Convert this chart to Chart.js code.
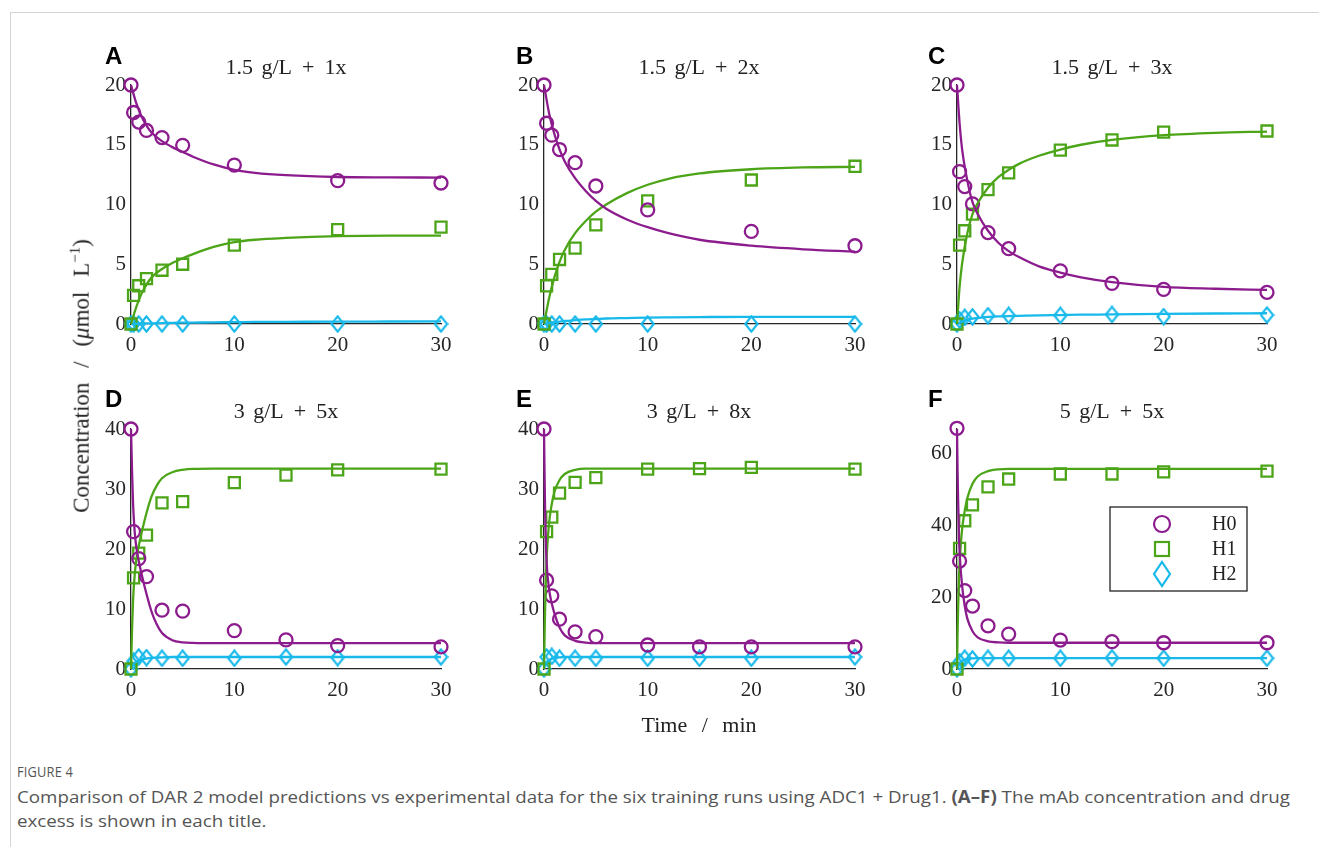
<!DOCTYPE html>
<html>
<head>
<meta charset="utf-8">
<script src="https://cdn.jsdelivr.net/npm/chart.js@4.4.1/dist/chart.umd.min.js"></script>
<style>
  html, body { margin:0; padding:0; background:#fff; }
  body { width:1319px; height:847px; position:relative; overflow:hidden; }
  .frameTop { position:absolute; left:10px; top:12px; width:1309px; height:1px; background:#d4d4d4; }
  .frameLeft { position:absolute; left:10px; top:12px; width:1px; height:835px; background:#d4d4d4; }
  canvas.pc { position:absolute; }
  .ttl { position:absolute; font-family:"Liberation Serif", serif; font-size:22px; line-height:22px; color:#222; white-space:nowrap; transform:translateX(-50%); word-spacing:3px; }
  .ttl .op { margin:0 10px; }
  .lt { position:absolute; font-family:"Liberation Sans", Arial, sans-serif; font-weight:bold; font-size:24px; line-height:24px; color:#000; }
  .ylab { position:absolute; font-family:"Liberation Serif", serif; font-size:23px; line-height:23px; color:#222; white-space:nowrap; transform:translate(-50%,-50%) rotate(-90deg); word-spacing:9px; }
  .xlab { position:absolute; font-family:"Liberation Serif", serif; font-size:22px; line-height:22px; color:#222; white-space:nowrap; transform:translate(-50%,-50%); word-spacing:9px; }
  .cap { position:absolute; left:17px; font-family:"Open Sans", sans-serif; color:#555; white-space:nowrap; transform-origin:0 0; }
</style>
</head>
<body>
<div class="frameTop"></div>
<div class="frameLeft"></div>

<canvas id="cA" class="pc"></canvas>
<canvas id="cB" class="pc"></canvas>
<canvas id="cC" class="pc"></canvas>
<canvas id="cD" class="pc"></canvas>
<canvas id="cE" class="pc"></canvas>
<canvas id="cF" class="pc"></canvas>

<div class="lt" style="left:105px;top:44px;">A</div>
<div class="lt" style="left:516px;top:44px;">B</div>
<div class="lt" style="left:928px;top:44px;">C</div>
<div class="lt" style="left:105px;top:387px;">D</div>
<div class="lt" style="left:516px;top:387px;">E</div>
<div class="lt" style="left:928px;top:387px;">F</div>

<div class="ttl" style="left:286px;top:56px;">1.5 g/L<span class="op">+</span>1x</div>
<div class="ttl" style="left:699px;top:56px;">1.5 g/L<span class="op">+</span>2x</div>
<div class="ttl" style="left:1112px;top:56px;">1.5 g/L<span class="op">+</span>3x</div>
<div class="ttl" style="left:286px;top:400px;">3 g/L<span class="op">+</span>5x</div>
<div class="ttl" style="left:699px;top:400px;">3 g/L<span class="op">+</span>8x</div>
<div class="ttl" style="left:1112px;top:400px;">5 g/L<span class="op">+</span>5x</div>

<div class="ylab" style="left:78px;top:376px;">Concentration / (<i>μ</i>mol L<sup style="font-size:15px;">−1</sup>)</div>
<div class="xlab" style="left:699px;top:725px;">Time / min</div>

<div class="cap" id="cap0" style="top:762px;font-size:14px;letter-spacing:0.2px;">FIGURE 4</div>
<div class="cap" id="cap1" style="top:785px;font-size:17px;">Comparison of DAR 2 model predictions vs experimental data for the six training runs using ADC1 + Drug1. <b>(A–F)</b> The mAb concentration and drug</div>
<div class="cap" id="cap2" style="top:809px;font-size:17px;">excess is shown in each title.</div>

<script>
// ---------------- DATA ----------------
const seriesNames = ['H0', 'H1', 'H2'];
const colH0 = '#8c1c8e';
const colH1 = '#4ca518';
const colH2 = '#17b9ea';

// experimental sampling times (min)
const timesAB = [0, 0.25, 0.75, 1.5, 3, 5, 10, 20, 30];
const timesCF = [0, 0.25, 0.75, 1.5, 3, 5, 10, 15, 20, 30];

// Panel A: 1.5 g/L + 1x
const expA_H0 = [20.0, 17.7, 16.9, 16.2, 15.6, 14.95, 13.3, 12.0, 11.8];
const expA_H1 = [0, 2.4, 3.2, 3.8, 4.5, 5.0, 6.6, 7.9, 8.1];
const expA_H2 = [0, 0, 0, 0, 0, 0, 0, 0, 0];
const modelTimesAB = [0, 0.5, 1, 1.5, 2, 3, 4, 5, 6, 8, 10, 12, 15, 20, 25, 30];
const modelA_H0 = [20, 18.5, 17.4, 16.6, 16.0, 15.3, 14.8, 14.4, 14.0, 13.35, 12.9, 12.65, 12.45, 12.3, 12.27, 12.25];
const modelA_H1 = [0, 1.4, 2.5, 3.3, 3.9, 4.6, 5.1, 5.5, 5.85, 6.45, 6.85, 7.05, 7.2, 7.35, 7.4, 7.4];
const modelA_H2 = [0, 0.02, 0.04, 0.05, 0.06, 0.08, 0.1, 0.11, 0.12, 0.14, 0.15, 0.17, 0.18, 0.2, 0.21, 0.22];

// Panel B: 1.5 g/L + 2x
const expB_H0 = [20.0, 16.8, 15.8, 14.6, 13.5, 11.55, 9.55, 7.75, 6.55];
const expB_H1 = [0, 3.2, 4.15, 5.4, 6.35, 8.3, 10.3, 12.05, 13.2];
const expB_H2 = [0, 0, 0, 0, 0, 0, 0, 0, 0];
const modelB_H0 = [20, 17.6, 15.9, 14.6, 13.6, 12.2, 11.15, 10.3, 9.65, 8.75, 8.1, 7.6, 7.05, 6.55, 6.25, 6.05];
const modelB_H1 = [0, 2.2, 3.9, 5.2, 6.2, 7.6, 8.6, 9.4, 10.0, 10.95, 11.65, 12.15, 12.6, 12.95, 13.1, 13.15];
const modelB_H2 = [0, 0.08, 0.15, 0.2, 0.25, 0.32, 0.38, 0.42, 0.46, 0.5, 0.54, 0.56, 0.58, 0.6, 0.6, 0.6];

// Panel C: 1.5 g/L + 3x
const expC_H0 = [20, 12.75, 11.5, 10.05, 7.65, 6.3, 4.45, 3.4, 2.9, 2.65];
const expC_H1 = [0, 6.6, 7.8, 9.2, 11.25, 12.65, 14.55, 15.4, 16.05, 16.15];
const expC_H2 = [0, 0.35, 0.55, 0.6, 0.7, 0.72, 0.72, 0.8, 0.62, 0.75];
const modelTimesC = [0, 0.25, 0.5, 1, 1.5, 2, 3, 4, 5, 6, 8, 10, 12, 15, 20, 25, 30];
const modelC_H0 = [20, 16.8, 14.6, 12.0, 10.2, 9.2, 7.8, 6.8, 6.1, 5.6, 4.8, 4.3, 3.9, 3.5, 3.1, 2.95, 2.85];
const modelC_H1 = [0, 3.1, 5.1, 7.6, 9.2, 10.1, 11.4, 12.3, 12.9, 13.4, 14.1, 14.6, 15.0, 15.4, 15.8, 16.0, 16.1];
const modelC_H2 = [0, 0.1, 0.2, 0.35, 0.45, 0.5, 0.6, 0.63, 0.66, 0.68, 0.72, 0.75, 0.78, 0.8, 0.85, 0.88, 0.9];

// Panel D: 3 g/L + 5x
const expD_H0 = [40, 22.9, 18.4, 15.4, 9.8, 9.65, 6.4, 4.85, 3.9, 3.7];
const expD_H1 = [0, 15.2, 19.3, 22.3, 27.7, 27.9, 31.05, 32.3, 33.2, 33.3];
const expD_H2 = [0, 1.3, 2.0, 1.9, 1.8, 1.8, 1.8, 2.0, 1.9, 2.0];
const modelTimesD = [0, 0.1, 0.2, 0.35, 0.5, 0.75, 1, 1.5, 2, 2.5, 3, 4, 5, 6, 8, 10, 15, 20, 30];
const modelD_H0 = [40, 33, 27.5, 23, 20.5, 18, 16, 12.5, 9.5, 7.4, 6.0, 4.8, 4.45, 4.35, 4.3, 4.3, 4.3, 4.3, 4.3];
const modelD_H1 = [0, 6.5, 11.5, 15.5, 18, 20.5, 22.5, 26, 28.8, 30.6, 31.8, 32.8, 33.2, 33.35, 33.4, 33.4, 33.4, 33.4, 33.4];
const modelD_H2 = [0, 0.4, 0.7, 1.0, 1.2, 1.45, 1.6, 1.75, 1.85, 1.9, 1.95, 2.0, 2.0, 2.0, 2.0, 2.0, 2.0, 2.0, 2.0];

// Panel E: 3 g/L + 8x
const expE_H0 = [40, 14.8, 12.2, 8.3, 6.2, 5.4, 4.0, 3.7, 3.7, 3.7];
const expE_H1 = [0, 22.9, 25.3, 29.3, 31.1, 31.9, 33.3, 33.4, 33.6, 33.3];
const expE_H2 = [0, 2.0, 2.1, 1.8, 1.8, 1.8, 1.8, 1.8, 1.8, 2.0];
const modelTimesEF = [0, 0.05, 0.1, 0.2, 0.3, 0.5, 0.75, 1, 1.5, 2, 3, 4, 5, 8, 10, 15, 20, 30];
const modelE_H0 = [40, 33, 27, 20, 16.5, 13.2, 10.9, 9.3, 6.9, 5.6, 4.7, 4.4, 4.3, 4.3, 4.3, 4.3, 4.3, 4.3];
const modelE_H1 = [0, 5, 9.5, 16, 20, 24.5, 27.5, 29.5, 31.5, 32.5, 33.2, 33.4, 33.4, 33.4, 33.4, 33.4, 33.4, 33.4];
const modelE_H2 = [0, 0.3, 0.6, 0.9, 1.2, 1.5, 1.7, 1.85, 1.95, 2.0, 2.0, 2.0, 2.0, 2.0, 2.0, 2.0, 2.0, 2.0];

// Panel F: 5 g/L + 5x
const expF_H0 = [66.9, 30.0, 21.8, 17.5, 12.0, 9.7, 8.05, 7.6, 7.3, 7.3];
const expF_H1 = [0, 33.5, 41.2, 45.6, 50.6, 52.8, 54.2, 54.2, 54.8, 55.0];
const expF_H2 = [0, 2.0, 3.0, 2.8, 3.0, 3.0, 3.0, 3.1, 3.0, 3.0];
const modelF_H0 = [66.7, 56, 48, 36, 30, 23, 17.5, 14, 10.5, 8.8, 7.7, 7.4, 7.3, 7.3, 7.3, 7.3, 7.3, 7.3];
const modelF_H1 = [0, 9, 16, 26, 32, 39, 44, 47.5, 51.5, 53.5, 55, 55.5, 55.6, 55.6, 55.6, 55.6, 55.6, 55.6];
const modelF_H2 = [0, 0.4, 0.8, 1.4, 1.8, 2.3, 2.6, 2.8, 2.95, 3.0, 3.0, 3.0, 3.0, 3.0, 3.0, 3.0, 3.0, 3.0];

// axis tick settings
const xTicks = [0, 10, 20, 30];
const yMaxTop = 20, yStepTop = 5;
const yMaxDE = 40, yStepDE = 10;
const yMaxF = 66.7, yStepF = 20;

// ---------------- RENDERING ----------------
const PAD_L = 60, PAD_R = 30, PAD_T = 30, PAD_B = 44;

function diamondImage(w, h, color, lw) {
  const c = document.createElement('canvas');
  c.width = w; c.height = h;
  const g = c.getContext('2d');
  g.strokeStyle = color; g.lineWidth = lw; g.lineJoin = 'miter';
  const m = lw / 2 + 0.3;
  g.beginPath();
  g.moveTo(w / 2, m); g.lineTo(w - m, h / 2); g.lineTo(w / 2, h - m); g.lineTo(m, h / 2);
  g.closePath(); g.stroke();
  return c;
}
const diamondPt = diamondImage(15, 18, colH2, 2.2);

function pts(xs, ys) { return xs.map((x, i) => ({ x: x, y: ys[i] })); }

const boxLegend = {
  id: 'boxLegend',
  afterDraw(chart, args, opts) {
    if (!opts || !opts.show) return;
    const ctx = chart.ctx;
    const bx = opts.x, by = opts.y, bw = opts.w, bh = opts.h;
    ctx.save();
    ctx.fillStyle = '#fff';
    ctx.fillRect(bx, by, bw, bh);
    ctx.strokeStyle = '#222'; ctx.lineWidth = 1.3;
    ctx.strokeRect(bx, by, bw, bh);
    const mx = bx + 52, tx = bx + 102;
    const rows = [by + 17, by + 42, by + 67];
    ctx.lineWidth = 2.2;
    ctx.strokeStyle = colH0; ctx.beginPath(); ctx.arc(mx, rows[0], 8, 0, Math.PI * 2); ctx.stroke();
    ctx.strokeStyle = colH1; ctx.strokeRect(mx - 7, rows[1] - 7, 14, 14);
    ctx.strokeStyle = colH2; ctx.beginPath();
    ctx.moveTo(mx, rows[2] - 12); ctx.lineTo(mx + 8, rows[2]); ctx.lineTo(mx, rows[2] + 12); ctx.lineTo(mx - 8, rows[2]); ctx.closePath(); ctx.stroke();
    ctx.fillStyle = '#222';
    ctx.font = '20px "Liberation Serif", serif';
    ctx.textBaseline = 'middle'; ctx.textAlign = 'left';
    seriesNames.forEach((n, i) => ctx.fillText(n, tx, rows[i] + 1));
    ctx.restore();
  }
};

function makePanel(id, left, top, w, h, cfg) {
  const cv = document.getElementById(id);
  const W = w + PAD_L + PAD_R, H = h + PAD_T + PAD_B;
  cv.style.left = (left - PAD_L) + 'px';
  cv.style.top = (top - PAD_T) + 'px';
  cv.style.width = W + 'px'; cv.style.height = H + 'px';
  cv.width = W; cv.height = H;

  const lineDs = (xs, ys, col) => ({
    type: 'scatter', data: pts(xs, ys), showLine: true, borderColor: col, backgroundColor: col,
    borderWidth: 2.3, pointRadius: 0, cubicInterpolationMode: 'monotone', clip: false
  });
  const markDs = (xs, ys, col, style, r) => ({
    type: 'scatter', data: pts(xs, ys), showLine: false, borderColor: col, backgroundColor: 'rgba(0,0,0,0)',
    borderWidth: 2.3, pointStyle: style, pointRadius: r, clip: false
  });

  new Chart(cv, {
    type: 'scatter',
    data: {
      datasets: [
        lineDs(cfg.mt, cfg.m0, colH0),
        lineDs(cfg.mt, cfg.m1, colH1),
        lineDs(cfg.mt, cfg.m2, colH2),
        markDs(cfg.et, cfg.e0, colH0, 'circle', 6.5),
        markDs(cfg.et, cfg.e1, colH1, 'rect', 7.8),
        markDs(cfg.et, cfg.e2, colH2, diamondPt, 7)
      ]
    },
    options: {
      responsive: false, animation: false, events: [],
      devicePixelRatio: 1,
      layout: { padding: { top: PAD_T, right: PAD_R, left: 0, bottom: 0 }, autoPadding: false },
      plugins: { legend: { display: false }, tooltip: { enabled: false }, title: { display: false },
        boxLegend: cfg.legend || { show: false } },
      scales: {
        x: {
          type: 'linear', min: 0, max: 30,
          afterBuildTicks: s => { s.ticks = xTicks.map(v => ({ value: v })); },
          afterFit: s => { s.height = PAD_B; },
          grid: { display: false, drawTicks: false },
          border: { display: true, color: '#262626', width: 1.3 },
          ticks: { padding: 9, color: '#262626', font: { family: '"Liberation Serif", serif', size: 21 }, maxRotation: 0 }
        },
        y: {
          type: 'linear', min: 0, max: cfg.ymax,
          ticks: { stepSize: cfg.ystep, includeBounds: false, padding: 5, color: '#262626',
            font: { family: '"Liberation Serif", serif', size: 21 } },
          afterFit: s => { s.width = PAD_L; },
          grid: { display: false, drawTicks: false },
          border: { display: true, color: '#262626', width: 1.3 }
        }
      }
    },
    plugins: [boxLegend]
  });
}

// plot-area geometry (page pixels)
const colLeft = [131, 544, 957];
const colW = [310, 311, 310];
const rowTop = [85, 429];
const rowH = [239, 240];

makePanel('cA', colLeft[0], rowTop[0], colW[0], rowH[0], { mt: modelTimesAB, m0: modelA_H0, m1: modelA_H1, m2: modelA_H2, et: timesAB, e0: expA_H0, e1: expA_H1, e2: expA_H2, ymax: yMaxTop, ystep: yStepTop });
makePanel('cB', colLeft[1], rowTop[0], colW[1], rowH[0], { mt: modelTimesAB, m0: modelB_H0, m1: modelB_H1, m2: modelB_H2, et: timesAB, e0: expB_H0, e1: expB_H1, e2: expB_H2, ymax: yMaxTop, ystep: yStepTop });
makePanel('cC', colLeft[2], rowTop[0], colW[2], rowH[0], { mt: modelTimesC, m0: modelC_H0, m1: modelC_H1, m2: modelC_H2, et: timesCF, e0: expC_H0, e1: expC_H1, e2: expC_H2, ymax: yMaxTop, ystep: yStepTop });
makePanel('cD', colLeft[0], rowTop[1], colW[0], rowH[1], { mt: modelTimesD, m0: modelD_H0, m1: modelD_H1, m2: modelD_H2, et: timesCF, e0: expD_H0, e1: expD_H1, e2: expD_H2, ymax: yMaxDE, ystep: yStepDE });
makePanel('cE', colLeft[1], rowTop[1], colW[1], rowH[1], { mt: modelTimesEF, m0: modelE_H0, m1: modelE_H1, m2: modelE_H2, et: timesCF, e0: expE_H0, e1: expE_H1, e2: expE_H2, ymax: yMaxDE, ystep: yStepDE });
makePanel('cF', colLeft[2], rowTop[1], colW[2], rowH[1], { mt: modelTimesEF, m0: modelF_H0, m1: modelF_H1, m2: modelF_H2, et: timesCF, e0: expF_H0, e1: expF_H1, e2: expF_H2, ymax: yMaxF, ystep: yStepF,
  legend: { show: true, x: 1110 - (957 - PAD_L), y: 507 - (429 - PAD_T), w: 137, h: 84 } });

// fit caption lines to the reference width
(function fitCaption() {
  const l1 = document.getElementById('cap1');
  const l2 = document.getElementById('cap2');
  const k = 1273 / l1.getBoundingClientRect().width;
  l1.style.transform = 'scaleX(' + k + ')';
  l2.style.transform = 'scaleX(' + k + ')';
  const c0 = document.getElementById('cap0');
  c0.style.transform = 'scaleX(' + (56 / c0.getBoundingClientRect().width) + ')';
})();
</script>
</body>
</html>
